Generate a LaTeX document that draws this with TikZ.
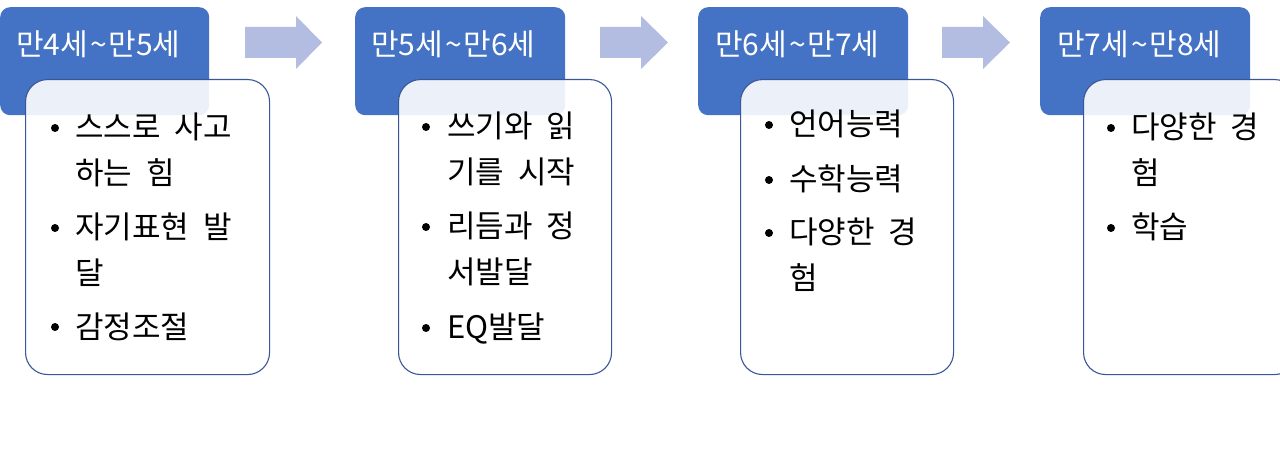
\documentclass[tikz,border=0pt]{standalone}
\usepackage{fontspec}
\setmainfont[WordSpace=2]{Noto Sans CJK KR}
\definecolor{hdr}{HTML}{4472C4}
\definecolor{arr}{HTML}{B3BDE1}
\definecolor{bord}{HTML}{3B5698}
\newcommand{\twoline}[2]{\vtop{\hbox{\strut #1}\hbox{\strut #2}}}
\newcommand{\tl}{\kern2pt\textasciitilde\kern2pt}
\begin{document}
\begin{tikzpicture}[x=1pt,y=-1pt,
  hdrbox/.style={fill=hdr, draw=none, rounded corners=10pt, anchor=north west, inner sep=0pt, minimum width=210pt, minimum height=108pt},
  bodybox/.style={fill=white, fill opacity=0.9, draw=bord, draw opacity=1, line width=1.1pt, rounded corners=22pt, anchor=north west, inner sep=0pt, minimum width=213pt, minimum height=295pt},
  hdrtext/.style={text=white, font=\fontsize{30}{36}\selectfont, anchor=base west, inner sep=0pt},
  itemtext/.style={text=black, font=\fontsize{31}{46}\selectfont, anchor=base west, inner sep=0pt},
  dot/.style={circle, fill=black, draw=none, inner sep=0pt, minimum size=8pt},
  flow/.style={fill=arr, draw=none}]
\useasboundingbox (0,0) rectangle (1280,454);
\clip (0,0) rectangle (1280,454);
% arrows
\fill[flow] (245,27) -- (296,27) -- (296,16) -- (322,42.5) -- (296,69) -- (296,58) -- (245,58) -- cycle;
\fill[flow] (600,27) -- (641,27) -- (641,16) -- (668,42.5) -- (641,69) -- (641,58) -- (600,58) -- cycle;
\fill[flow] (942,27) -- (983,27) -- (983,16) -- (1010,42.5) -- (983,69) -- (983,58) -- (942,58) -- cycle;
% group 1
\node[hdrbox, minimum width=209pt] (h1) at (0,7) {};
\node[hdrtext] (h1t) at (16,56) {만4세\tl 만5세};
\node[bodybox, minimum width=244pt] (b1) at (25,79) {};
\node[dot] (d1a) at (55,128) {};
\node[itemtext] (t1a) at (75,139) {\twoline{스스로 사고}{하는 힘}};
\node[dot] (d1b) at (55,228) {};
\node[itemtext] (t1b) at (75,239) {\twoline{자기표현 발}{달}};
\node[dot] (d1c) at (55,327) {};
\node[itemtext] (t1c) at (75,338) {감정조절};
% group 2
\node[hdrbox] (h2) at (355,7) {};
\node[hdrtext] (h2t) at (371,56) {만5세\tl 만6세};
\node[bodybox] (b2) at (398,79) {};
\node[dot] (d2a) at (426,127) {};
\node[itemtext] (t2a) at (447,138) {\twoline{쓰기와 읽}{기를 시작}};
\node[dot] (d2b) at (426,227) {};
\node[itemtext] (t2b) at (447,238) {\twoline{리듬과 정}{서발달}};
\node[dot] (d2c) at (426,328) {};
\node[itemtext] (t2c) at (447,339) {EQ발달};
% group 3
\node[hdrbox] (h3) at (698,7) {};
\node[hdrtext] (h3t) at (715,56) {만6세\tl 만7세};
\node[bodybox] (b3) at (740,79) {};
\node[dot] (d3a) at (769,125) {};
\node[itemtext] (t3a) at (789,136) {언어능력};
\node[dot] (d3b) at (769,180) {};
\node[itemtext] (t3b) at (789,191) {수학능력};
\node[dot] (d3c) at (769,233) {};
\node[itemtext] (t3c) at (789,244) {\twoline{다양한 경}{험}};
% group 4
\node[hdrbox] (h4) at (1040,7) {};
\node[hdrtext] (h4t) at (1057,56) {만7세\tl 만8세};
\node[bodybox] (b4) at (1083,79) {};
\node[dot] (d4a) at (1111,128) {};
\node[itemtext] (t4a) at (1131,139) {\twoline{다양한 경}{험}};
\node[dot] (d4b) at (1111,228) {};
\node[itemtext] (t4b) at (1131,239) {학습};
\end{tikzpicture}
\end{document}
